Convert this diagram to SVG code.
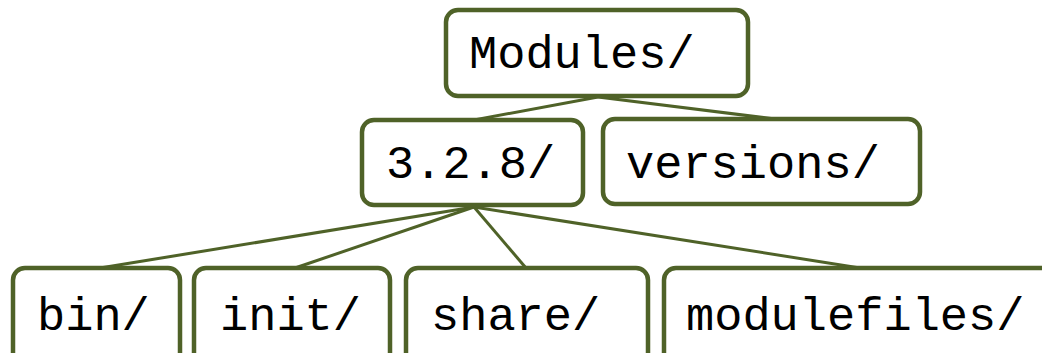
<svg xmlns="http://www.w3.org/2000/svg" width="1042" height="353" viewBox="0 0 1042 353">
  <style>
    .box { fill: #ffffff; stroke: #4f6228; stroke-width: 4.5; }
    .edge { stroke: #4f6228; stroke-width: 3; fill: none; }
    .label { font-family: "Liberation Mono", "Courier New", monospace; font-size: 47px; fill: #000000; }
  </style>
  <rect width="1042" height="353" fill="#ffffff"/>

  <!-- directory links -->
  <g id="connectors">
    <line class="edge" x1="598" y1="97" x2="474" y2="120"/>
    <line class="edge" x1="598" y1="97" x2="775" y2="119"/>
    <line class="edge" x1="474" y1="207" x2="100" y2="268"/>
    <line class="edge" x1="474" y1="207" x2="295" y2="268"/>
    <line class="edge" x1="474" y1="207" x2="526" y2="268"/>
    <line class="edge" x1="474" y1="207" x2="860" y2="268"/>
  </g>

  <g id="modules">
    <rect class="box" x="446" y="10" width="302" height="86" rx="12"/>
    <text class="label" x="469" y="68">Modules/</text>
  </g>
  <g id="v328">
    <rect class="box" x="362" y="120" width="221" height="85" rx="12"/>
    <text class="label" x="386" y="178">3.2.8/</text>
  </g>
  <g id="versions">
    <rect class="box" x="603" y="119" width="317" height="85" rx="12"/>
    <text class="label" x="626" y="178">versions/</text>
  </g>
  <g id="bin">
    <rect class="box" x="13" y="268" width="167" height="110" rx="12"/>
    <text class="label" x="37" y="330">bin/</text>
  </g>
  <g id="init">
    <rect class="box" x="194" y="268" width="196" height="110" rx="12"/>
    <text class="label" x="220" y="330">init/</text>
  </g>
  <g id="share">
    <rect class="box" x="406" y="268" width="242" height="110" rx="12"/>
    <text class="label" x="431" y="330">share/</text>
  </g>
  <g id="modulefiles">
    <rect class="box" x="664" y="268" width="420" height="110" rx="12"/>
    <text class="label" x="686" y="330">modulefiles/</text>
  </g>
</svg>
